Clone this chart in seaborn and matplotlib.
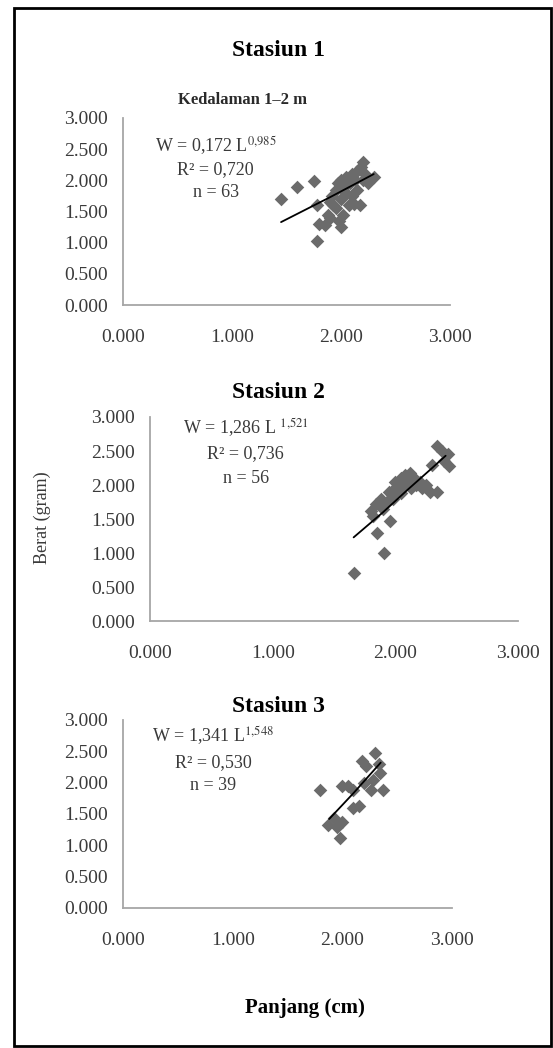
import matplotlib
matplotlib.use("Agg")
import matplotlib.pyplot as plt
import seaborn as sns
from matplotlib.patches import Rectangle

# ===============================
# Data
# ===============================
st1_len = [1.45, 1.60, 1.75, 1.78, 1.78, 1.80, 1.85, 1.88, 1.90, 1.90, 1.92, 1.95,
           1.95, 1.97, 2.00, 2.00, 2.02, 2.03, 2.05, 2.05, 2.07, 2.08, 2.10, 2.10,
           2.12, 2.13, 2.15, 2.15, 2.17, 2.18, 2.20, 2.20, 2.22, 2.25, 2.30, 1.98,
           2.00, 1.93]
st1_wt = [1.70, 1.90, 1.99, 1.02, 1.60, 1.30, 1.28, 1.45, 1.40, 1.65, 1.75, 1.85,
          1.55, 1.95, 2.00, 1.70, 1.45, 1.90, 2.05, 1.80, 1.60, 1.95, 2.10, 1.75,
          1.62, 2.00, 2.15, 1.85, 1.60, 2.22, 2.30, 2.00, 2.10, 1.95, 2.05, 1.35,
          1.25, 1.60]
st1_trend_len = [1.45, 1.90, 2.30]
st1_trend_wt = [1.33, 1.73, 2.10]

st2_len = [1.66, 1.91, 1.85, 1.96, 1.80, 1.84, 1.82, 1.88, 1.90, 1.93, 1.95, 1.97,
           2.00, 2.00, 2.03, 2.05, 2.07, 2.08, 2.10, 2.12, 2.13, 2.15, 2.17, 2.20,
           2.22, 2.25, 2.28, 2.34, 2.30, 2.34, 2.38, 2.43, 2.44, 2.40, 2.05, 1.98]
st2_wt = [0.70, 1.00, 1.30, 1.47, 1.62, 1.72, 1.55, 1.80, 1.65, 1.75, 1.90, 1.85,
          1.95, 2.05, 1.98, 2.10, 2.00, 2.15, 2.05, 2.18, 1.95, 2.10, 2.00, 2.05,
          1.95, 2.00, 1.90, 1.89, 2.30, 2.57, 2.50, 2.45, 2.28, 2.35, 1.88, 1.80]
st2_trend_len = [1.66, 1.90, 2.10, 2.30, 2.41]
st2_trend_wt = [1.23, 1.60, 1.93, 2.25, 2.43]

st3_len = [1.80, 1.87, 1.95, 1.92, 2.00, 1.98, 2.00, 2.10, 2.15, 2.10, 2.22, 2.30,
           2.33, 2.34, 2.37, 2.28, 2.20, 2.26, 2.05, 2.18]
st3_wt = [1.89, 1.32, 1.29, 1.44, 1.37, 1.12, 1.94, 1.89, 1.62, 1.59, 2.27, 2.47,
          2.30, 2.15, 1.89, 2.05, 2.00, 1.89, 1.95, 2.35]
st3_trend_len = [1.88, 2.10, 2.35]
st3_trend_wt = [1.42, 1.83, 2.32]

titles = ["Stasiun 1", "Stasiun 2", "Stasiun 3"]
equations = [r"W = 0,172 L$^{\mathrm{0{,}985}}$",
             r"W = 1,286 L $^{\mathrm{1{,}521}}$",
             r"W = 1,341 L$^{\mathrm{1{,}548}}$"]
r2_labels = ["R² = 0,720", "R² = 0,736", "R² = 0,530"]
n_labels = ["n = 63", "n = 56", "n = 39"]
ticks = [0.0, 0.5, 1.0, 1.5, 2.0, 2.5, 3.0]
xticks = [0.0, 1.0, 2.0, 3.0]

# ===============================
# Style
# ===============================
sns.set_theme(style="white")
plt.rcParams["font.family"] = ["Liberation Serif", "DejaVu Serif"]
plt.rcParams["mathtext.fontset"] = "stix"

W, H = 553, 1048
fig = plt.figure(figsize=(W / 100, H / 100), dpi=100)


def box(left, top, right, bottom):
    return [left / W, 1 - bottom / H, (right - left) / W, (bottom - top) / H]


# pixel boxes of the three panels (left, top, right, bottom)
panels = [box(123, 118, 450, 305), box(150, 417, 518, 621), box(123, 720, 452, 908)]
title_y = [50, 392, 706]
# equation block position (data units): x centre, y of the three lines
eq_x = [0.85, 0.78, 0.82]
eq_y = [(2.55, 2.17, 1.80), (2.84, 2.46, 2.10), (2.75, 2.32, 1.95)]

data = [
    (st1_len, st1_wt, st1_trend_len, st1_trend_wt),
    (st2_len, st2_wt, st2_trend_len, st2_trend_wt),
    (st3_len, st3_wt, st3_trend_len, st3_trend_wt),
]

axis_col = "#a6a6a6"
text_col = "#3a3a3a"

for i, rect in enumerate(panels):
    ax = fig.add_axes(rect)
    x, y, tx, ty = data[i]
    sns.scatterplot(x=x, y=y, marker="D", color="#6b6b6b", s=48,
                    linewidth=0, ax=ax, zorder=2)
    sns.lineplot(x=tx, y=ty, color="black", linewidth=1.3,
                 estimator=None, ax=ax, zorder=3)
    ax.set_xlim(0, 3)
    ax.set_ylim(0, 3)
    ax.set_xticks(xticks)
    ax.set_yticks(ticks)
    ax.set_xticklabels([f"{v:.3f}" for v in xticks])
    ax.set_yticklabels([f"{v:.3f}" for v in ticks])
    ax.tick_params(axis="both", direction="out", length=5, width=1.1,
                   color=axis_col, labelsize=14, labelcolor=text_col, pad=6)
    ax.tick_params(axis="x", pad=12)
    for s in ["top", "right"]:
        ax.spines[s].set_visible(False)
    for s in ["left", "bottom"]:
        ax.spines[s].set_color(axis_col)
        ax.spines[s].set_linewidth(1.3)
    ax.set_xlabel("")
    ax.set_ylabel("")
    ax.patch.set_alpha(0)

    # equation block
    lines = [equations[i], r2_labels[i], n_labels[i]]
    for txt, ty_ in zip(lines, eq_y[i]):
        ax.text(eq_x[i], ty_, txt, ha="center", va="center",
                fontsize=13, color=text_col)

    fig.text(278 / W, 1 - title_y[i] / H, titles[i], ha="center", va="center",
             fontsize=17, fontweight="bold", color="black")

fig.text(243 / W, 1 - 100 / H, "Kedalaman 1–2 m", ha="center", va="center",
         fontsize=12, fontweight="bold", color="#2a2a2a")
fig.text(305 / W, 1 - 1008 / H, "Panjang (cm)", ha="center", va="center",
         fontsize=15, fontweight="bold", color="black")
fig.text(42 / W, 1 - 518 / H, "Berat (gram)", ha="center", va="center",
         rotation=90, fontsize=13, color=text_col)

# outer frame
fig.add_artist(Rectangle((14 / W, 2 / H), 537 / W, 1 - 10 / H,
                         transform=fig.transFigure, fill=False,
                         edgecolor="black", linewidth=2))

fig.savefig("out.png", dpi=100, facecolor="white")
plt.close(fig)
